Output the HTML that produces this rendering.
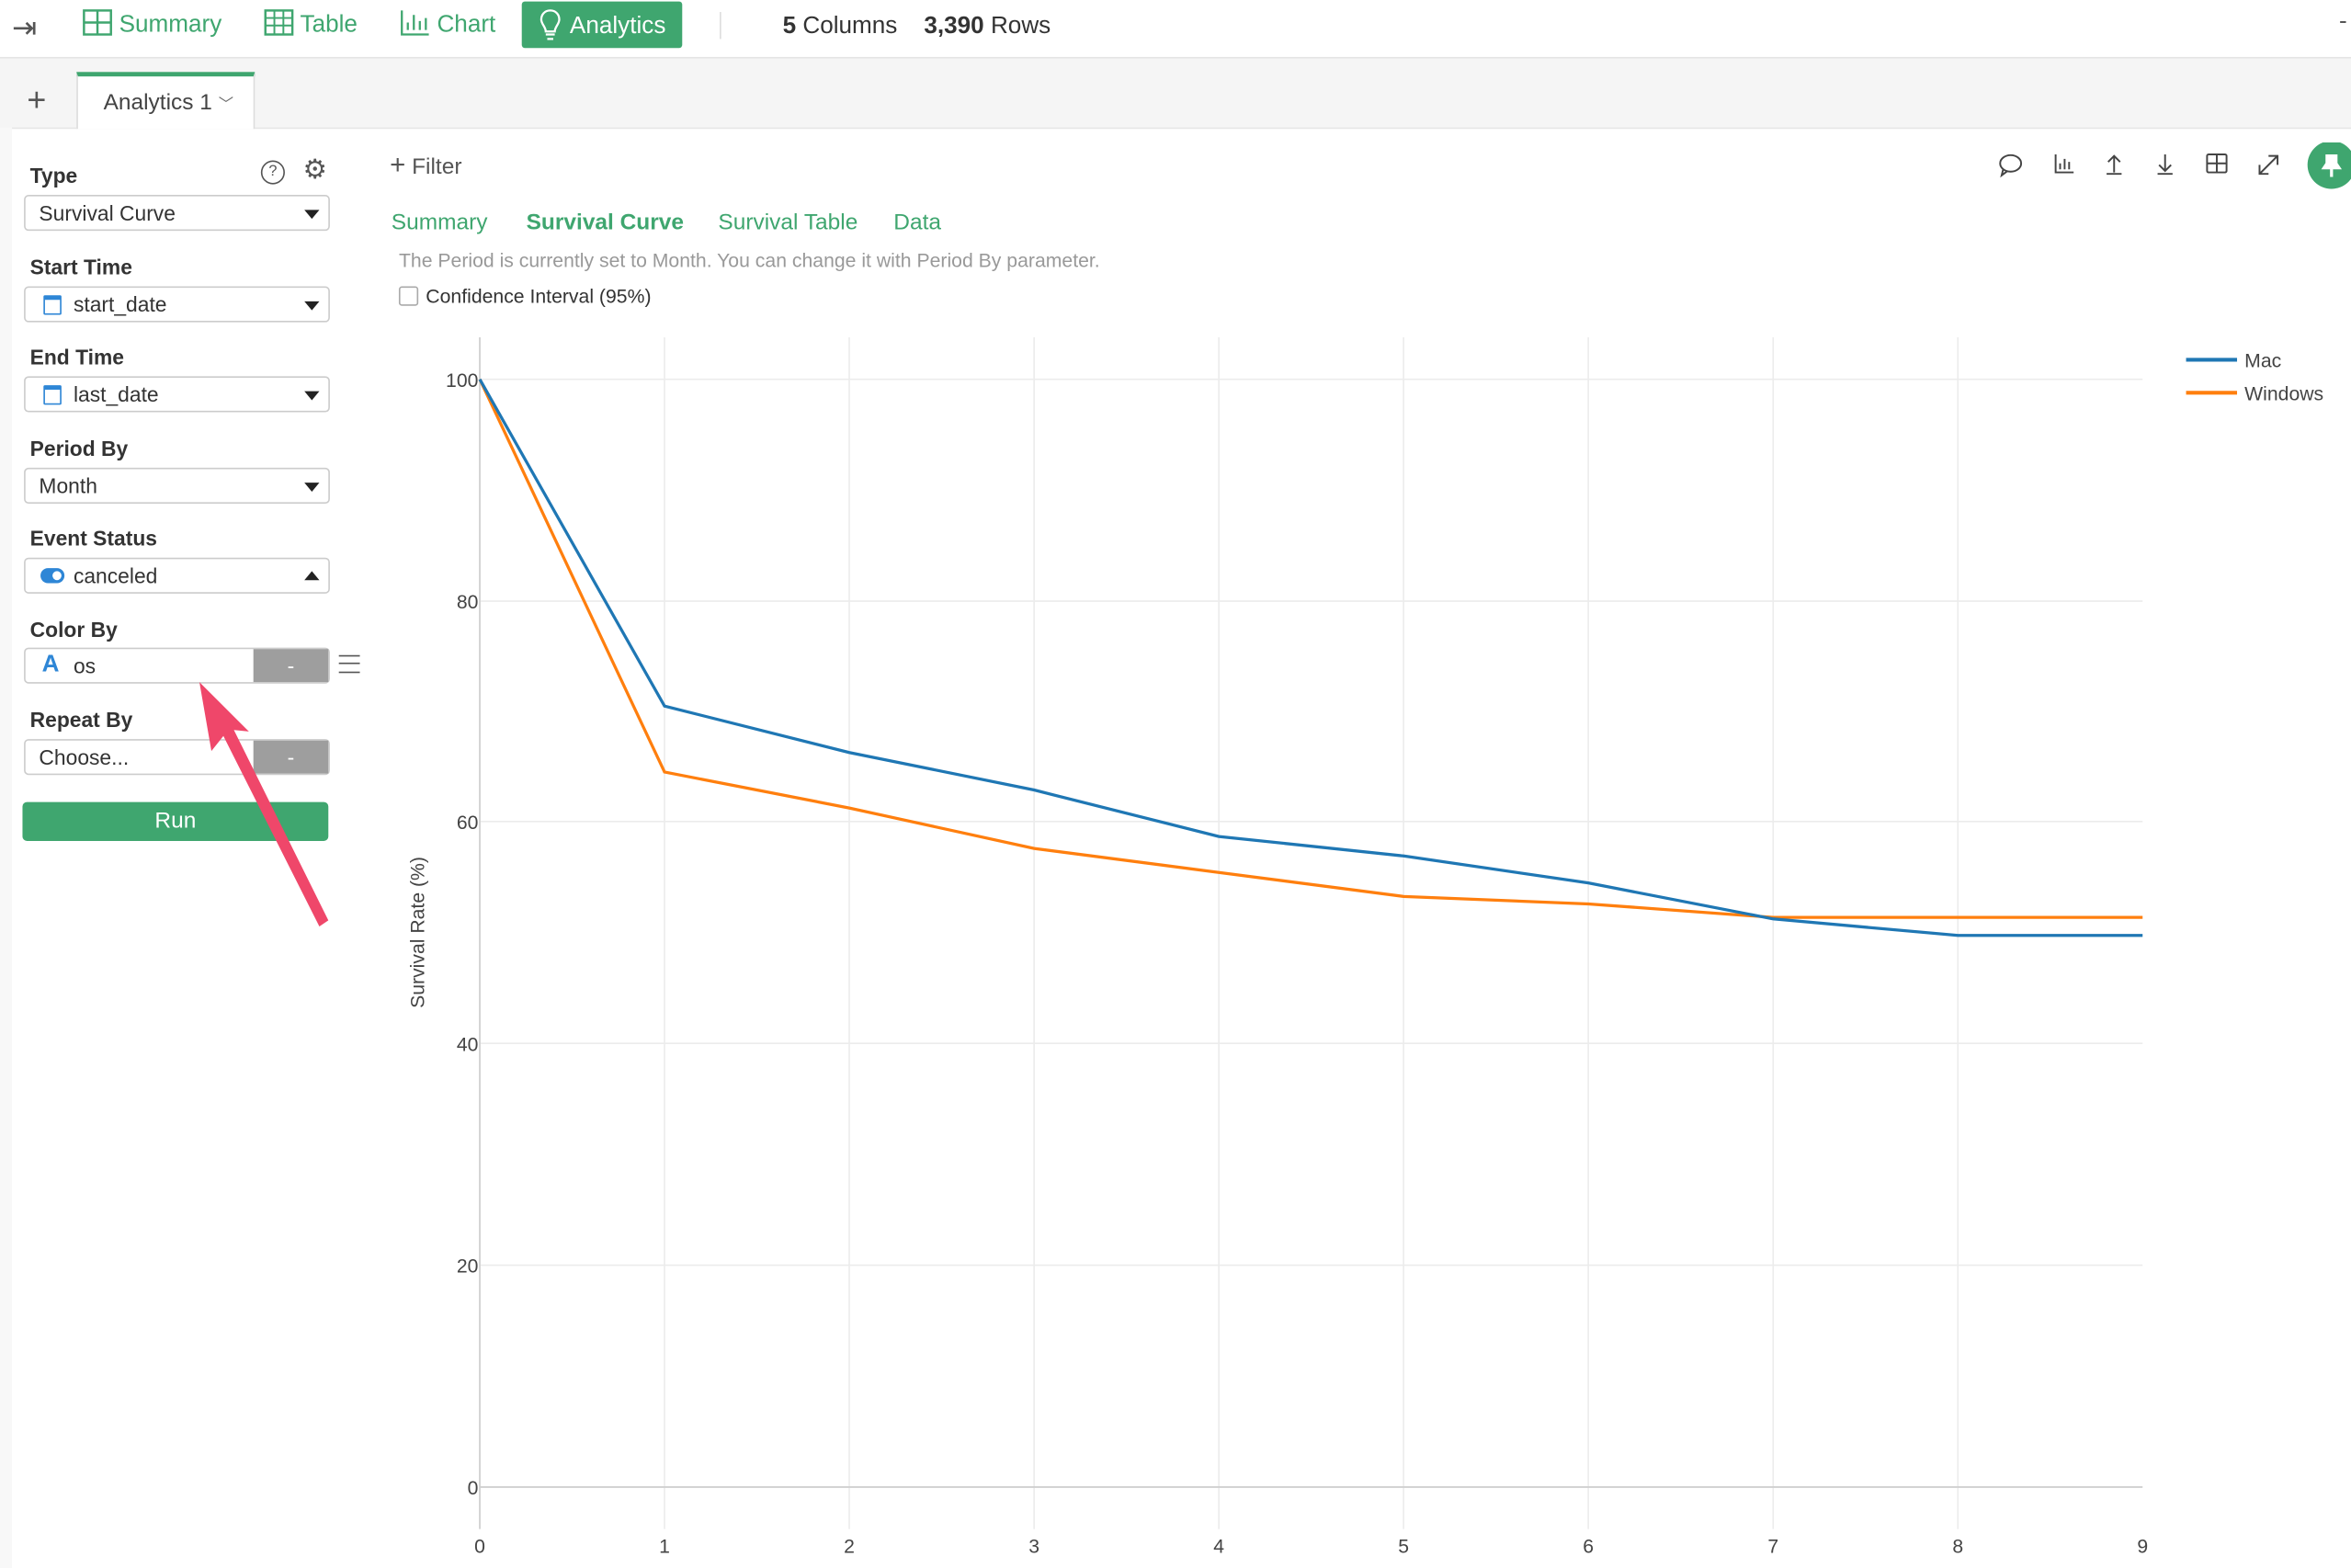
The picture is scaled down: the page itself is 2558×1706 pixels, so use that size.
<!DOCTYPE html>
<html><head><meta charset="utf-8"><style>
html,body{margin:0;padding:0;width:2558px;height:1706px;overflow:hidden;background:#fff;}
#w{position:absolute;left:0;top:0;width:1568px;height:1046px;transform:scale(1.63138,1.63098);transform-origin:0 0;font-family:"Liberation Sans",sans-serif;color:#333;}
.a{position:absolute;}
.top{left:0;top:0;width:1568px;height:38px;background:#fff;border-bottom:1px solid #e4e4e4;}
.nav{top:1px;height:32px;line-height:32px;font-size:16px;color:#3fa66f;}
.lbl{font-size:14px;font-weight:bold;color:#333;left:20px;}
.sel{left:16px;width:202px;height:22px;border:1px solid #ccc;border-radius:3px;background:#fff;font-size:14px;line-height:22px;box-sizing:content-box;}
.sel span{position:absolute;left:32px;top:0;}
.car{position:absolute;right:6px;top:9px;width:0;height:0;border-left:5px solid transparent;border-right:5px solid transparent;border-top:6px solid #222;}
.cal{position:absolute;left:12px;top:5px;width:10px;height:9px;border:1.5px solid #2e86d6;border-top-width:3px;border-radius:1px;}
</style></head><body><div id="w">
<div class="a top"></div>
<div class="a" style="left:0;top:39px;width:1568px;height:46px;background:#f5f5f5;border-bottom:1px solid #e6e6e6;"></div>
<div class="a" style="left:0;top:85px;width:8px;height:961px;background:#f8f8f8;"></div>
<div class="a" style="left:8px;top:6px;font-size:20px;color:#555;">⇥</div>
<div class="a nav" style="left:55px;"><svg width="20" height="18" style="vertical-align:-3px" viewBox="0 0 20 18"><rect x="1" y="1" width="18" height="16" fill="none" stroke="#3fa66f" stroke-width="1.5"/><path d="M10 1V17M1 9H19" stroke="#3fa66f" stroke-width="1.5"/></svg> Summary</div>
<div class="a nav" style="left:176px;"><svg width="20" height="18" style="vertical-align:-3px" viewBox="0 0 20 18"><rect x="1" y="1" width="18" height="16" fill="none" stroke="#3fa66f" stroke-width="1.5"/><path d="M7 1V17M13 1V17M1 6H19M1 11H19" stroke="#3fa66f" stroke-width="1.2"/></svg> Table</div>
<div class="a nav" style="left:267px;"><svg width="20" height="18" style="vertical-align:-3px" viewBox="0 0 20 18"><path d="M1 1V17H19M5 14V9M9 14V4M13 14V8M17 14V6" stroke="#3fa66f" stroke-width="1.4" fill="none"/></svg> Chart</div>
<div class="a" style="left:348px;top:1px;width:107px;height:31px;background:#3fa66f;border-radius:2px;"></div>
<div class="a" style="left:359px;top:6px;"><svg width="16" height="22" viewBox="0 0 16 22"><path d="M8 1C4 1 2 4 2 7c0 3 3 5 3 8h6c0-3 3-5 3-8 0-3-2-6-6-6zM5 17h6M6 20h4" fill="none" stroke="#fff" stroke-width="1.4"/></svg></div>
<div class="a" style="left:380px;top:2px;line-height:31px;font-size:16px;color:#fff;">Analytics</div>
<div class="a" style="left:480px;top:8px;width:1px;height:18px;background:#ddd;"></div>
<div class="a" style="left:522px;top:9px;font-size:16px;color:#333;"><b>5</b> Columns &nbsp;&nbsp;&nbsp;<b>3,390</b> Rows</div>
<div class="a" style="left:1560px;top:6px;font-size:16px;color:#555;">-</div>
<div class="a" style="left:18px;top:54px;font-size:22px;color:#555;font-weight:300;">+</div>
<div class="a" style="left:51px;top:48px;width:119px;height:38px;background:#fff;border-top:3px solid #3fa66f;border-left:1px solid #ddd;border-right:1px solid #ddd;box-sizing:border-box;font-size:15px;color:#444;line-height:36px;padding-left:17px;">Analytics 1 <span style="font-size:10px;color:#666;">﹀</span></div>
<div class="a lbl" style="top:109px;">Type</div>
<div class="a" style="left:174px;top:107px;width:14px;height:14px;border:1px solid #555;border-radius:50%;font-size:10px;text-align:center;line-height:14px;color:#555;">?</div>
<div class="a" style="left:202px;top:103px;font-size:18px;color:#555;">⚙</div>
<div class="a sel" style="top:130px;"><span style="left:9px">Survival Curve</span><i class="car"></i></div>
<div class="a lbl" style="top:170px;">Start Time</div>
<div class="a sel" style="top:191px;"><i class="cal"></i><span>start_date</span><i class="car"></i></div>
<div class="a lbl" style="top:230px;">End Time</div>
<div class="a sel" style="top:251px;"><i class="cal"></i><span>last_date</span><i class="car"></i></div>
<div class="a lbl" style="top:291px;">Period By</div>
<div class="a sel" style="top:312px;"><span style="left:9px">Month</span><i class="car"></i></div>
<div class="a lbl" style="top:351px;">Event Status</div>
<div class="a sel" style="top:372px;"><i style="position:absolute;left:10px;top:6px;width:16px;height:10px;border-radius:5px;background:#2e86d6;"></i><i style="position:absolute;left:18px;top:8px;width:6px;height:6px;border-radius:50%;background:#fff;"></i><span>canceled</span><i class="car" style="border-top:none;border-bottom:6px solid #222;top:8px;"></i></div>
<div class="a lbl" style="top:412px;">Color By</div>
<div class="a sel" style="top:432px;"><span style="left:11px;color:#2e86d6;font-weight:bold;font-size:16px;">A</span><span>os</span><i style="position:absolute;right:0;top:0;width:50px;height:22px;background:#9e9e9e;color:#fff;text-align:center;font-style:normal;">-</i></div>
<div class="a" style="left:226px;top:437px;width:14px;height:10px;border-top:1px solid #555;border-bottom:1px solid #555;"></div>
<div class="a" style="left:226px;top:442px;width:14px;height:1px;background:#555;"></div>
<div class="a lbl" style="top:472px;">Repeat By</div>
<div class="a sel" style="top:493px;"><span style="left:9px">Choose...</span><i style="position:absolute;right:0;top:0;width:50px;height:22px;background:#9e9e9e;color:#fff;text-align:center;font-style:normal;">-</i></div>
<div class="a" style="left:15px;top:535px;width:204px;height:26px;background:#3fa66f;border-radius:3px;color:#fff;font-size:15px;text-align:center;line-height:26px;">Run</div>
<svg class="a" style="left:0;top:0" width="300" height="700"><polygon points="133,455 166,488 156,487 219,614 213,618 149,491 141,501" fill="#ef476a"/></svg>
<div class="a" style="left:260px;top:100px;font-size:15px;color:#555;"><span style="font-size:18px;">+</span> Filter</div>
<div class="a" style="left:261px;top:140px;font-size:15px;color:#3fa66f;">Summary</div>
<div class="a" style="left:351px;top:140px;font-size:15px;color:#3fa66f;font-weight:bold;">Survival Curve</div>
<div class="a" style="left:479px;top:140px;font-size:15px;color:#3fa66f;">Survival Table</div>
<div class="a" style="left:596px;top:140px;font-size:15px;color:#3fa66f;">Data</div>
<div class="a" style="left:266px;top:166px;font-size:13px;color:#999;">The Period is currently set to Month. You can change it with Period By parameter.</div>
<div class="a" style="left:266px;top:191px;width:11px;height:11px;border:1px solid #aaa;border-radius:2px;"></div>
<div class="a" style="left:284px;top:190px;font-size:13px;color:#333;">Confidence Interval (95%)</div>
<svg class="a" style="left:1325px;top:95px" width="243" height="32" viewBox="0 0 243 32">
<g fill="none" stroke="#444" stroke-width="1.2">
<ellipse cx="16" cy="14" rx="7" ry="5.5"/><path d="M11 18l-1 4 4-3"/>
<path d="M46 8V20H58M49 18V14M52 18V11M55 18V13"/>
<path d="M85 9V20M81 13l4-4 4 4M80 21H90"/>
<path d="M119 8V19M115 15l4 4 4-4M114 21H124"/>
<rect x="147" y="8" width="13" height="12" rx="1"/><path d="M153.5 8V20M147 14H160"/>
<path d="M182 21L194 9M188 9h6v6M182 15v6h6"/>
</g>
<circle cx="230" cy="15" r="16" fill="#3fa66f"/>
<path d="M226 9h8M227 9v5l-2 3h10l-2-3V9M230 17v6" stroke="#fff" stroke-width="2" fill="#fff"/>
</svg>
<svg class="a" style="left:0;top:0" width="1568" height="1046">
<g stroke="#ececec" stroke-width="1">
<line x1="443.2" y1="225" x2="443.2" y2="1020"/><line x1="566.4" y1="225" x2="566.4" y2="1020"/><line x1="689.7" y1="225" x2="689.7" y2="1020"/><line x1="812.9" y1="225" x2="812.9" y2="1020"/><line x1="936.1" y1="225" x2="936.1" y2="1020"/><line x1="1059.3" y1="225" x2="1059.3" y2="1020"/><line x1="1182.6" y1="225" x2="1182.6" y2="1020"/><line x1="1305.8" y1="225" x2="1305.8" y2="1020"/>
<line x1="320" y1="253" x2="1429" y2="253"/><line x1="320" y1="401" x2="1429" y2="401"/><line x1="320" y1="548" x2="1429" y2="548"/><line x1="320" y1="696" x2="1429" y2="696"/><line x1="320" y1="844" x2="1429" y2="844"/>
</g>
<line x1="320" y1="225" x2="320" y2="1020" stroke="#d4d4d4" stroke-width="1.2"/>
<line x1="320" y1="992" x2="1429" y2="992" stroke="#d0d0d0" stroke-width="1.2"/>
<polyline fill="none" stroke="#ff7f0e" stroke-width="2" points="320,253 443.2,515 566.4,539 689.7,566 812.9,582 936.1,598 1059.3,603 1182.6,612 1305.8,612 1429,612"/>
<polyline fill="none" stroke="#1f77b4" stroke-width="2" points="320,253 443.2,471 566.4,502 689.7,527 812.9,558 936.1,571 1059.3,589 1182.6,613 1305.8,624 1429,624"/>
<g font-family="Liberation Sans, sans-serif" font-size="13" fill="#444" text-anchor="end">
<text x="319" y="258">100</text><text x="319" y="406">80</text><text x="319" y="553">60</text><text x="319" y="701">40</text><text x="319" y="849">20</text><text x="319" y="997">0</text>
</g>
<g font-family="Liberation Sans, sans-serif" font-size="13" fill="#444" text-anchor="middle">
<text x="320" y="1036">0</text><text x="443.2" y="1036">1</text><text x="566.4" y="1036">2</text><text x="689.7" y="1036">3</text><text x="812.9" y="1036">4</text><text x="936.1" y="1036">5</text><text x="1059.3" y="1036">6</text><text x="1182.6" y="1036">7</text><text x="1305.8" y="1036">8</text><text x="1429" y="1036">9</text>
</g>
<text transform="translate(283,622) rotate(-90)" text-anchor="middle" font-family="Liberation Sans, sans-serif" font-size="13" fill="#444">Survival Rate (%)</text>
<line x1="1458" y1="240" x2="1492" y2="240" stroke="#1f77b4" stroke-width="2.5"/>
<line x1="1458" y1="262" x2="1492" y2="262" stroke="#ff7f0e" stroke-width="2.5"/>
<text x="1497" y="245" font-family="Liberation Sans, sans-serif" font-size="13" fill="#444">Mac</text>
<text x="1497" y="267" font-family="Liberation Sans, sans-serif" font-size="13" fill="#444">Windows</text>
</svg>
</div></body></html>
